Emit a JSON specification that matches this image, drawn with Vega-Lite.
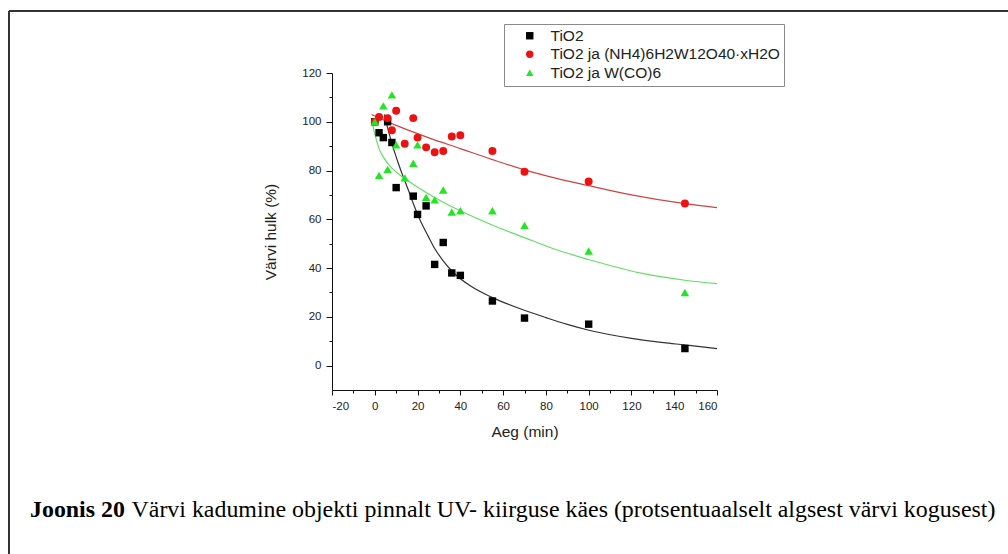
{
  "$schema": "https://vega.github.io/schema/vega-lite/v6.json",
  "width": 999,
  "height": 543,
  "autosize": {"type": "none"},
  "padding": {"left": 9, "top": 11, "right": 0, "bottom": 0},
  "background": "white",
  "config": {
    "view": {"stroke": "#333", "strokeWidth": 2, "strokeDash": [999, 1542, 543, 0]},
    "axis": {
      "grid": false,
      "domainColor": "#111",
      "tickColor": "#111",
      "labelFont": "Liberation Sans",
      "labelFontSize": 11.5,
      "labelColor": "#222",
      "titleFont": "Liberation Sans",
      "titleFontSize": 15.5,
      "titleFontWeight": "normal",
      "titleColor": "#222"
    }
  },
  "title": {
    "text": "Joonis 20",
    "subtitle": "\u200b\u00a0\u00a0\u00a0\u00a0\u00a0\u00a0\u00a0\u00a0\u00a0\u00a0\u00a0\u00a0\u00a0\u00a0\u00a0\u00a0\u00a0Värvi kadumine objekti pinnalt UV- kiirguse käes (protsentuaalselt algsest värvi kogusest)",
    "orient": "bottom",
    "anchor": "start",
    "frame": "group",
    "offset": -56,
    "dx": 21,
    "font": "Liberation Serif",
    "fontSize": 23.9,
    "fontWeight": "bold",
    "color": "#000",
    "subtitleFont": "Liberation Serif",
    "subtitleFontSize": 23.9,
    "subtitleFontWeight": "normal",
    "subtitleColor": "#000",
    "subtitlePadding": -23.9
  },
  "datasets": {
    "fits": [
      {"series": "TiO2", "t": 4.5, "v": 103},
      {"series": "TiO2", "t": 6, "v": 97.5},
      {"series": "TiO2", "t": 8.4, "v": 90},
      {"series": "TiO2", "t": 11, "v": 83},
      {"series": "TiO2", "t": 13.3, "v": 77.4},
      {"series": "TiO2", "t": 16, "v": 71.3},
      {"series": "TiO2", "t": 18, "v": 66.5},
      {"series": "TiO2", "t": 21, "v": 60},
      {"series": "TiO2", "t": 25, "v": 53},
      {"series": "TiO2", "t": 28, "v": 48},
      {"series": "TiO2", "t": 32, "v": 43},
      {"series": "TiO2", "t": 36.6, "v": 38.3},
      {"series": "TiO2", "t": 45, "v": 32.5},
      {"series": "TiO2", "t": 54, "v": 28.3},
      {"series": "TiO2", "t": 62, "v": 25.3},
      {"series": "TiO2", "t": 68, "v": 23.3},
      {"series": "TiO2", "t": 80, "v": 19.7},
      {"series": "TiO2", "t": 90, "v": 16.9},
      {"series": "TiO2", "t": 100.6, "v": 14.4},
      {"series": "TiO2", "t": 120, "v": 11.2},
      {"series": "TiO2", "t": 135, "v": 9.4},
      {"series": "TiO2", "t": 145, "v": 8.5},
      {"series": "TiO2", "t": 160, "v": 7},
      {"series": "TiO2 ja (NH4)6H2W12O40·xH2O", "t": -1.5, "v": 103},
      {"series": "TiO2 ja (NH4)6H2W12O40·xH2O", "t": 10, "v": 98.5},
      {"series": "TiO2 ja (NH4)6H2W12O40·xH2O", "t": 25, "v": 93.5},
      {"series": "TiO2 ja (NH4)6H2W12O40·xH2O", "t": 40, "v": 89},
      {"series": "TiO2 ja (NH4)6H2W12O40·xH2O", "t": 55, "v": 84.5},
      {"series": "TiO2 ja (NH4)6H2W12O40·xH2O", "t": 70, "v": 80.3},
      {"series": "TiO2 ja (NH4)6H2W12O40·xH2O", "t": 85, "v": 76.8},
      {"series": "TiO2 ja (NH4)6H2W12O40·xH2O", "t": 100, "v": 73.8},
      {"series": "TiO2 ja (NH4)6H2W12O40·xH2O", "t": 120, "v": 70},
      {"series": "TiO2 ja (NH4)6H2W12O40·xH2O", "t": 145, "v": 66.4},
      {"series": "TiO2 ja (NH4)6H2W12O40·xH2O", "t": 160, "v": 64.8},
      {"series": "TiO2 ja W(CO)6", "t": -1.5, "v": 101},
      {"series": "TiO2 ja W(CO)6", "t": 0, "v": 95},
      {"series": "TiO2 ja W(CO)6", "t": 2, "v": 89},
      {"series": "TiO2 ja W(CO)6", "t": 4, "v": 85.5},
      {"series": "TiO2 ja W(CO)6", "t": 8, "v": 81},
      {"series": "TiO2 ja W(CO)6", "t": 12, "v": 78},
      {"series": "TiO2 ja W(CO)6", "t": 16, "v": 75.5},
      {"series": "TiO2 ja W(CO)6", "t": 24, "v": 71},
      {"series": "TiO2 ja W(CO)6", "t": 32, "v": 67},
      {"series": "TiO2 ja W(CO)6", "t": 40, "v": 63.5},
      {"series": "TiO2 ja W(CO)6", "t": 54, "v": 58},
      {"series": "TiO2 ja W(CO)6", "t": 70, "v": 52.5},
      {"series": "TiO2 ja W(CO)6", "t": 85, "v": 47.5},
      {"series": "TiO2 ja W(CO)6", "t": 100, "v": 43.5},
      {"series": "TiO2 ja W(CO)6", "t": 124, "v": 38},
      {"series": "TiO2 ja W(CO)6", "t": 145, "v": 35},
      {"series": "TiO2 ja W(CO)6", "t": 160, "v": 33.6}
    ],
    "measured": [
      {"series": "TiO2", "t": 0, "v": 100},
      {"series": "TiO2", "t": 2, "v": 95.5},
      {"series": "TiO2", "t": 4, "v": 93.5},
      {"series": "TiO2", "t": 6, "v": 100},
      {"series": "TiO2", "t": 8, "v": 91.5},
      {"series": "TiO2", "t": 10, "v": 73},
      {"series": "TiO2", "t": 18, "v": 69.5},
      {"series": "TiO2", "t": 20, "v": 62},
      {"series": "TiO2", "t": 24, "v": 65.5},
      {"series": "TiO2", "t": 28, "v": 41.5},
      {"series": "TiO2", "t": 32, "v": 50.5},
      {"series": "TiO2", "t": 36, "v": 38},
      {"series": "TiO2", "t": 40, "v": 37},
      {"series": "TiO2", "t": 55, "v": 26.5},
      {"series": "TiO2", "t": 70, "v": 19.5},
      {"series": "TiO2", "t": 100, "v": 17},
      {"series": "TiO2", "t": 145, "v": 7},
      {"series": "TiO2 ja (NH4)6H2W12O40·xH2O", "t": 0, "v": 100},
      {"series": "TiO2 ja (NH4)6H2W12O40·xH2O", "t": 2, "v": 102},
      {"series": "TiO2 ja (NH4)6H2W12O40·xH2O", "t": 6, "v": 101.5},
      {"series": "TiO2 ja (NH4)6H2W12O40·xH2O", "t": 8, "v": 96.5},
      {"series": "TiO2 ja (NH4)6H2W12O40·xH2O", "t": 10, "v": 104.5},
      {"series": "TiO2 ja (NH4)6H2W12O40·xH2O", "t": 14, "v": 91},
      {"series": "TiO2 ja (NH4)6H2W12O40·xH2O", "t": 18, "v": 101.5},
      {"series": "TiO2 ja (NH4)6H2W12O40·xH2O", "t": 20, "v": 93.5},
      {"series": "TiO2 ja (NH4)6H2W12O40·xH2O", "t": 24, "v": 89.5},
      {"series": "TiO2 ja (NH4)6H2W12O40·xH2O", "t": 28, "v": 87.5},
      {"series": "TiO2 ja (NH4)6H2W12O40·xH2O", "t": 32, "v": 88},
      {"series": "TiO2 ja (NH4)6H2W12O40·xH2O", "t": 36, "v": 94},
      {"series": "TiO2 ja (NH4)6H2W12O40·xH2O", "t": 40, "v": 94.5},
      {"series": "TiO2 ja (NH4)6H2W12O40·xH2O", "t": 55, "v": 88},
      {"series": "TiO2 ja (NH4)6H2W12O40·xH2O", "t": 70, "v": 79.5},
      {"series": "TiO2 ja (NH4)6H2W12O40·xH2O", "t": 100, "v": 75.5},
      {"series": "TiO2 ja (NH4)6H2W12O40·xH2O", "t": 145, "v": 66.5},
      {"series": "TiO2 ja W(CO)6", "t": 0, "v": 100},
      {"series": "TiO2 ja W(CO)6", "t": 2, "v": 78},
      {"series": "TiO2 ja W(CO)6", "t": 4, "v": 106.5},
      {"series": "TiO2 ja W(CO)6", "t": 6, "v": 80.5},
      {"series": "TiO2 ja W(CO)6", "t": 8, "v": 111},
      {"series": "TiO2 ja W(CO)6", "t": 10, "v": 90.5},
      {"series": "TiO2 ja W(CO)6", "t": 14, "v": 77},
      {"series": "TiO2 ja W(CO)6", "t": 18, "v": 83},
      {"series": "TiO2 ja W(CO)6", "t": 20, "v": 90.5},
      {"series": "TiO2 ja W(CO)6", "t": 24, "v": 69},
      {"series": "TiO2 ja W(CO)6", "t": 28, "v": 68},
      {"series": "TiO2 ja W(CO)6", "t": 32, "v": 72},
      {"series": "TiO2 ja W(CO)6", "t": 36, "v": 63},
      {"series": "TiO2 ja W(CO)6", "t": 40, "v": 63.5},
      {"series": "TiO2 ja W(CO)6", "t": 55, "v": 63.5},
      {"series": "TiO2 ja W(CO)6", "t": 70, "v": 57.5},
      {"series": "TiO2 ja W(CO)6", "t": 100, "v": 47},
      {"series": "TiO2 ja W(CO)6", "t": 145, "v": 30}
    ]
  },
  "layer": [
    {
      "data": {"name": "fits"},
      "mark": {"type": "line", "interpolate": "monotone", "strokeWidth": 1.2},
      "encoding": {
        "x": {
          "field": "t",
          "type": "quantitative",
          "scale": {"domain": [-20, 160], "range": [323, 708], "nice": false, "zero": false},
          "axis": {
            "title": "Aeg (min)",
            "orient": "bottom",
            "offset": -164,
            "values": [-20, -10, 0, 10, 20, 30, 40, 50, 60, 70, 80, 90, 100, 110, 120, 130, 140, 150, 160],
            "labelExpr": "datum.value % 20 === 0 ? '' + datum.value : ''",
            "tickSize": {"condition": {"test": "datum.value % 20 === 0", "value": 5}, "value": 3},
            "labelPadding": 5,
            "titlePadding": 13
          }
        },
        "y": {
          "field": "v",
          "type": "quantitative",
          "scale": {"domain": [-10, 120], "range": [379, 62], "nice": false, "zero": false},
          "axis": {
            "title": "Värvi hulk (%)",
            "orient": "left",
            "offset": -323,
            "values": [0, 10, 20, 30, 40, 50, 60, 70, 80, 90, 100, 110, 120],
            "labelExpr": "datum.value % 20 === 0 ? '' + datum.value : ''",
            "tickSize": {"condition": {"test": "datum.value % 20 === 0", "value": 6}, "value": 3},
            "labelPadding": 5,
            "titlePadding": 23
          }
        },
        "stroke": {
          "field": "series",
          "type": "nominal",
          "scale": {"range": ["#333333", "#cc4444", "#66dd66"]},
          "legend": null
        }
      }
    },
    {
      "data": {"name": "measured"},
      "mark": {"type": "point", "filled": true, "opacity": 1},
      "encoding": {
        "x": {"field": "t", "type": "quantitative"},
        "y": {"field": "v", "type": "quantitative"},
        "color": {
          "field": "series",
          "type": "nominal",
          "scale": {
            "domain": ["TiO2", "TiO2 ja (NH4)6H2W12O40·xH2O", "TiO2 ja W(CO)6"],
            "range": ["#000000", "#ee1111", "#22e622"]
          },
          "legend": {
            "title": null,
            "orient": "none",
            "legendX": 495,
            "legendY": 13,
            "strokeColor": "#8a8a8a",
            "padding": 4,
            "labelFont": "Liberation Sans",
            "labelFontSize": 15.5,
            "labelColor": "#222",
            "labelLimit": 400,
            "symbolSize": 55,
            "symbolOffset": 14,
            "labelOffset": 13,
            "rowPadding": 1.5
          }
        },
        "shape": {
          "field": "series",
          "type": "nominal",
          "scale": {
            "domain": ["TiO2", "TiO2 ja (NH4)6H2W12O40·xH2O", "TiO2 ja W(CO)6"],
            "range": ["square", "circle", "triangle-up"]
          },
          "legend": {
            "title": null,
            "orient": "none",
            "legendX": 495,
            "legendY": 13,
            "strokeColor": "#8a8a8a",
            "padding": 4,
            "labelFont": "Liberation Sans",
            "labelFontSize": 15.5,
            "labelColor": "#222",
            "labelLimit": 400,
            "symbolSize": 55,
            "symbolOffset": 14,
            "labelOffset": 13,
            "rowPadding": 1.5
          }
        },
        "size": {
          "field": "series",
          "type": "nominal",
          "scale": {"range": [55, 72, 95]},
          "legend": null
        }
      }
    }
  ]
}
